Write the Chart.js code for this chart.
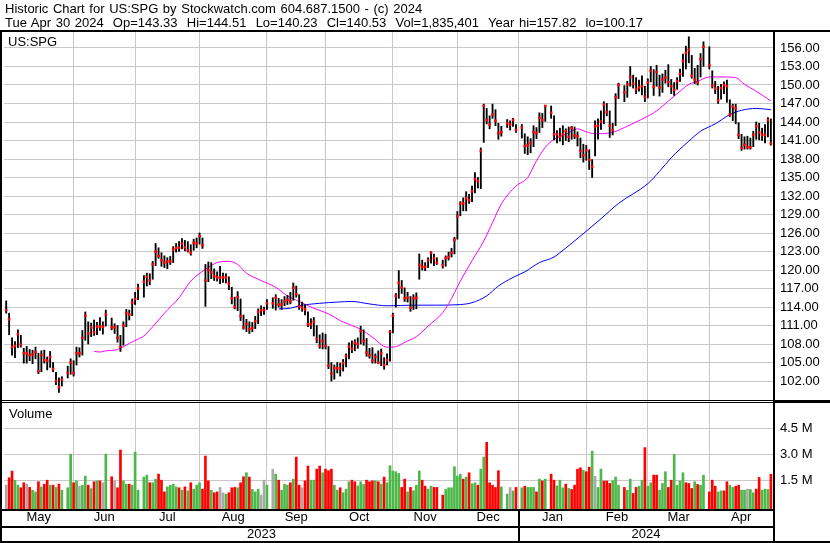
<!DOCTYPE html>
<html>
<head>
<meta charset="utf-8">
<script src="https://cdn.jsdelivr.net/npm/chart.js@4.4.1/dist/chart.umd.min.js"></script>
<style>
  html, body { margin: 0; padding: 0; background: #fff; }
  #wrap { position: relative; width: 830px; height: 543px; overflow: hidden;
          font-family: "Liberation Sans", Arial, Helvetica, sans-serif; color: #000; }
  #wrap canvas { position: absolute; left: 0; top: 0; }
  .txt { position: absolute; font-size: 13px; line-height: 13.4px; white-space: pre; }
  .head { word-spacing: 1px; }
</style>
</head>
<body>
<div id="wrap">
  <canvas id="chart" width="830" height="543"></canvas>
  <div class="txt head" id="head1" style="left:5px;top:2px;"></div>
  <div class="txt head" id="head2" style="left:5px;top:15.5px;"></div>
  <div class="txt" style="left:8px;top:34.5px;">US:SPG</div>
  <div class="txt" style="left:9px;top:406.5px;">Volume</div>
</div>
<script>
// ---- Daily data, May 1 2023 .. Apr 30 2024 (one entry per trading day) ----
// weekday slots (counted from Mon May 1 2023) on which the market was closed
const holidays = [20, 35, 46, 90, 148, 170, 175, 185, 210, 239];

const closes = [
  // May
  113.5,112.0,107.5,107.7,109.6,107.9,106.5,106.5,106.2,106.3,106.7,103.6,106.2,105.4,105.3,105.9,103.9,102.0,101.0,102.2,103.3,105.0,
  // Jun
  103.3,106.5,106.5,109.0,112.6,109.7,110.7,109.9,110.8,110.8,110.8,112.8,110.7,110.7,109.0,107.5,111.0,113.0,112.8,114.7,115.3,
  // Jul
  117.0,118.1,118.9,118.3,120.9,123.0,122.3,121.6,121.2,121.4,121.4,123.3,123.6,123.6,124.3,123.7,123.2,122.8,124.4,124.3,
  // Aug
  125.5,124.0,118.3,120.0,119.6,119.0,118.8,118.8,118.8,118.8,117.8,115.4,114.0,115.6,112.5,110.7,111.3,110.4,110.6,111.7,113.2,113.5,113.5,
  // Sep
  114.6,114.6,115.5,114.4,114.4,114.9,115.2,114.9,117.1,116.1,114.1,113.9,113.6,111.2,111.2,111.6,108.8,107.7,108.5,107.7,
  // Oct
  104.5,103.2,104.1,104.1,104.0,104.9,106.0,107.6,107.2,108.2,108.0,110.1,108.5,106.6,106.2,105.3,105.9,105.0,106.5,104.6,105.4,110.0,
  // Nov
  112.6,115.8,117.9,117.2,115.4,115.5,113.9,115.4,115.5,120.8,120.5,120.5,121.6,122.8,121.9,121.2,120.8,121.9,122.1,122.8,124.9,
  // Dec
  128.7,130.8,130.8,131.6,131.3,132.8,134.7,134.4,139.3,146.6,144.3,143.6,145.2,144.2,142.2,142.4,143.8,143.6,144.3,142.7,
  // Jan
  143.1,140.1,140.2,140.6,142.4,142.2,144.7,144.3,146.6,145.5,142.0,142.0,141.6,142.0,142.5,141.6,143.0,141.8,141.7,139.3,138.6,
  // Feb
  139.4,137.9,136.8,143.3,143.4,144.1,146.8,145.6,143.4,142.7,148.0,150.0,148.8,150.1,151.3,150.2,149.3,149.6,149.8,148.1,
  // Mar
  150.4,152.3,149.7,152.1,149.6,150.9,151.2,150.5,149.8,149.2,150.6,151.8,153.9,155.2,155.7,151.5,150.9,150.4,154.2,156.2,
  // Apr
  153.2,149.9,149.4,147.5,149.5,150.0,149.8,145.2,146.5,146.2,141.9,139.8,140.3,139.9,139.9,141.9,143.3,142.3,141.9,141.9,144.3,140.53
];

const highs = [
  115.0,113.0,109.0,108.4,110.3,109.4,107.3,107.6,107.1,107.0,107.5,106.5,106.9,107.0,105.9,106.8,105.0,103.4,102.5,102.7,104.4,105.6,
  105.3,107.5,107.4,110.2,113.2,111.6,111.4,111.9,111.5,112.3,111.6,113.5,112.2,111.3,111.0,109.4,111.6,113.6,113.5,115.3,116.4,
  117.7,119.1,119.5,119.4,121.4,124.3,123.6,122.8,122.3,122.0,122.2,123.8,124.3,124.6,125.1,124.8,124.6,124.1,125.0,125.2,
  126.0,125.2,120.9,121.3,121.2,120.2,119.7,120.6,119.5,119.4,118.9,117.2,115.6,116.5,115.3,112.7,112.0,111.6,111.5,112.5,113.7,114.2,114.0,
  115.2,115.5,116.0,115.4,115.2,115.7,115.9,116.4,117.9,117.4,116.0,114.8,114.4,113.2,112.1,112.3,111.0,109.5,109.8,109.6,
  107.6,105.0,104.6,105.0,104.9,105.5,106.4,108.2,108.5,108.7,109.0,110.9,110.3,108.9,107.3,107.4,106.4,106.9,107.2,105.8,106.4,110.2,
  113.0,116.2,119.9,118.3,117.1,116.4,115.7,116.0,116.3,122.6,121.6,121.2,122.0,123.0,122.6,122.0,121.6,122.3,122.9,123.5,125.3,
  129.5,131.1,131.7,132.7,132.3,133.6,135.8,135.0,139.8,146.9,146.2,145.0,146.9,146.0,143.8,143.3,144.4,144.2,144.6,143.6,
  143.6,142.1,141.6,141.3,143.4,143.1,145.5,145.4,146.7,146.6,145.0,142.6,143.0,143.4,142.9,143.2,143.3,143.2,142.4,141.4,140.4,
  140.2,139.5,137.9,144.2,144.5,145.8,147.3,147.0,145.8,143.8,148.6,150.3,149.9,150.6,153.0,151.6,151.2,150.8,151.5,149.8,
  151.0,153.0,152.5,153.2,151.6,151.8,152.4,153.3,150.9,150.4,151.2,152.6,155.0,156.3,157.82,154.8,152.7,153.2,155.1,157.0,
  156.2,152.3,150.6,149.8,150.1,150.5,150.8,147.6,146.9,146.9,143.9,142.0,141.6,141.7,141.4,142.5,144.0,143.8,143.0,143.6,144.7,144.51
];

const lows = [
  113.0,109.5,106.2,105.8,107.4,107.5,104.9,104.9,105.3,104.8,105.6,103.2,103.5,104.9,103.8,104.2,103.5,101.4,100.17,101.2,102.5,103.1,
  102.8,104.6,105.9,106.2,108.6,108.0,109.2,109.4,109.5,110.2,109.6,110.9,110.3,109.7,108.3,106.8,107.8,110.8,111.9,112.6,114.4,
  115.2,115.6,117.4,117.6,118.5,120.7,121.9,120.6,120.4,120.2,120.9,121.2,122.9,123.0,123.4,123.1,122.9,122.4,123.2,123.6,
  124.2,123.5,114.1,118.1,118.6,118.3,118.2,117.8,118.0,117.9,116.8,114.5,113.7,113.4,111.8,110.4,110.0,109.7,110.0,110.5,111.3,112.6,112.8,
  113.6,113.8,113.5,114.0,113.6,114.2,114.4,114.5,115.1,115.6,113.6,113.3,112.7,110.8,110.5,109.3,108.2,107.3,107.2,107.2,
  104.0,102.0,102.3,103.3,102.8,103.6,104.3,105.6,106.6,106.9,107.3,108.0,107.8,106.0,105.7,104.9,104.9,104.8,104.5,103.9,104.6,105.2,
  109.8,114.0,115.4,116.2,114.9,114.8,113.3,113.6,113.7,118.5,120.0,119.9,120.4,121.1,120.7,120.9,120.3,120.6,121.6,122.1,122.6,
  125.0,128.8,129.6,129.6,130.8,131.1,132.5,133.3,133.2,140.7,143.7,142.9,144.6,143.4,141.2,141.7,143.1,142.7,143.3,142.3,
  141.4,138.9,138.7,139.0,140.0,141.3,142.3,143.1,144.1,144.6,141.1,140.6,140.9,140.3,141.0,140.8,141.2,141.3,140.1,138.2,137.5,
  137.8,136.3,135.0,138.5,141.2,142.8,143.7,145.0,141.5,141.9,143.4,147.8,147.3,148.0,149.8,149.5,148.6,149.0,148.4,147.3,
  147.9,150.5,148.3,149.8,148.2,148.8,150.3,149.7,148.6,148.3,149.3,150.6,151.4,152.6,153.6,151.1,150.2,150.0,151.3,153.0,
  152.6,149.5,148.6,147.0,147.7,148.6,147.2,144.9,144.2,143.7,141.3,139.4,139.6,139.6,139.6,140.0,141.2,141.1,141.0,140.6,141.6,140.23
];

const lastOpen = 143.33;

// volume in millions of shares
const volumes = [
  1.2,1.63,2.02,1.49,1.2,1.05,1.34,1.26,1.07,0.91,0.81,1.4,1.1,1.26,1.49,1.2,1.2,1.07,1.26,0.91,1.05,3.0,
  1.34,1.45,1.14,1.2,1.73,1.2,1.0,1.4,1.45,1.45,1.34,3.0,1.69,1.45,1.05,3.24,1.45,1.26,1.26,1.2,3.12,
  0.91,1.67,1.78,1.34,1.34,1.55,1.84,1.49,0.81,1.1,1.2,1.26,1.1,1.05,0.91,1.1,0.87,1.34,0.97,1.2,
  1.34,0.97,2.89,1.45,0.91,0.76,0.81,1.07,0.76,0.68,0.76,1.05,1.07,1.05,1.34,1.69,1.92,1.67,0.95,0.81,0.97,0.62,1.49,
  1.2,2.13,1.84,1.49,0.91,1.26,1.2,1.34,1.55,2.83,1.2,1.05,1.45,2.31,1.49,1.49,2.13,2.31,1.92,2.13,
  2.04,2.13,1.2,0.91,1.05,0.76,0.97,1.4,1.49,1.4,1.16,1.4,1.24,1.49,1.4,1.45,1.45,1.4,1.26,1.67,1.34,2.33,
  2.02,1.98,1.88,1.07,1.55,0.81,1.07,0.88,1.2,2.02,1.49,1.14,0.97,1.14,1.07,1.07,0.62,0.95,1.05,1.05,2.27,
  1.73,1.84,1.55,1.67,1.92,1.28,1.34,1.2,2.13,2.83,3.69,1.34,1.2,1.07,2.04,1.1,0.68,1.07,0.87,1.07,
  1.05,1.14,1.07,1.07,1.07,0.81,1.55,1.45,1.55,1.84,1.49,1.16,1.49,1.05,1.26,1.01,0.95,1.2,2.13,2.21,2.06,
  1.98,2.25,3.18,1.71,1.07,2.13,1.44,1.44,1.3,1.45,1.67,1.2,1.07,0.91,1.55,0.72,1.07,1.14,1.49,3.38,
  1.14,1.34,1.78,1.78,0.91,1.3,1.98,1.07,1.49,2.99,1.2,1.45,1.92,1.34,1.3,1.01,1.4,1.24,1.2,1.78,
  0.81,1.49,1.14,0.81,0.87,0.87,1.4,1.2,1.07,1.14,1.2,0.91,0.91,0.97,0.95,0.76,0.97,1.65,0.91,0.97,0.95,1.835401
];

// volume bar tone per day: g = up, r = down, n = unchanged
const volumeTone = (
  'nrrggrrnrggrgrrgrgrggg' + 'rgnggrgrgrngrnrrggrgg' + 'gggrggrrrggggrgrgrgg' +
  'grrrgrrnngrrrgrrgrgggnn' + 'gngrgggrgrrnrrggrrgr' + 'rrggrgggrrgggrrrgrgrgg' +
  'gggrrgrgggrrggrrrgggg' + 'ggrgrggrggrrrrrggngr' + 'grgggrgrgrrgggrgrrrrg' +
  'rrgnggrrrgggrggrrggr' + 'ggrrgggrrggggrrrgrgg' + 'rrrggrrggrrggnggrrgggr'
).split('');

// moving averages (weekday slot, price)
const maFastDay = [30,32,34,37,39,42,45,47,50,54,59,63,68,72,76,79,82,87,92,96,100,105,110,114,118,121,125,130,132,137,
                   140,144,149,151,155,159,163,166,169,174,178,181,184,187,191,195,198,201,206,211,215,218,222,226,230,233,236,240,245,249,252,256,261];
const maFastVal = [106.8,106.7,106.9,107.0,107.3,108.1,108.8,109.3,110.8,113.0,115.5,118.2,120.1,121.2,121.4,120.9,119.5,118.3,117.2,115.8,
                   114.9,113.8,112.9,111.8,111.0,110.4,109.1,107.5,107.5,108.5,109.2,110.9,113.1,114.5,118.2,121.5,124.7,127.7,130.7,133.6,
                   135.0,137.7,139.9,141.2,142.0,142.9,142.4,142.1,142.2,143.1,144.0,144.7,145.8,147.4,149.0,150.1,150.6,151.3,151.3,151.2,
                   150.1,149.0,147.4];
const maSlowDay = [93,97,100,107,113,118,124,130,139,147,155,159,164,168,173,177,182,187,189,196,203,209,219,223,227,233,237,242,247,251,256,261];
const maSlowVal = [113.7,113.8,114.2,114.6,114.8,114.9,114.5,114.2,114.3,114.3,114.4,114.7,115.8,117.4,118.8,119.7,121.2,122.1,122.8,125.5,
                   128.3,130.8,134.0,136.0,138.2,140.9,142.5,143.7,145.2,145.9,146.2,146.0];

// calendar labels
const monthNames = ['May','Jun','Jul','Aug','Sep','Oct','Nov','Dec','Jan','Feb','Mar','Apr'];
const monthStarts = [23, 44, 66, 89, 109, 132, 154, 175, 198, 219, 240];
const yearNames = ['2023', '2024'];
const yearStart = 175;

const priceTicks = [102,105,108,111,114,117,120,123,126,129,132,135,138,141,144,147,150,153,156];
const volumeTicks = [1.5, 3.0, 4.5];

// ---- layout / style ----
const X_MIN = -0.75, X_MAX = 261.73;
const PRICE_MIN = 98.76, PRICE_MAX = 158.594;
const VOL_MIN = -0.241, VOL_MAX = 6.085;
const GRID = '#c8c8c8';
const FONT = '"Liberation Sans", Arial, Helvetica, sans-serif';
const TONE = { g: '#4cb848', r: '#ff0000', n: '#a8a8a8' };

// header text
document.getElementById('head1').textContent =
  'Historic Chart for US:SPG by Stockwatch.com 604.687.1500 - (c) 2024';
const last = closes.length - 1;
const fmtVol = Math.round(volumes[last] * 1e6).toLocaleString('en-US');
document.getElementById('head2').textContent =
  'Tue Apr 30 2024  Op=' + lastOpen.toFixed(2) +
  '  Hi=' + highs[last].toFixed(2) +
  '  Lo=' + lows[last].toFixed(2) +
  '  Cl=' + closes[last].toFixed(2) +
  '  Vol=' + fmtVol +
  '  Year hi=' + Math.max(...highs).toFixed(2) +
  '  lo=' + Math.min(...lows).toFixed(2);

// map trading days onto weekday slots
const dayIndex = [];
for (let d = 0; dayIndex.length < closes.length; d++) {
  if (!holidays.includes(d)) dayIndex.push(d);
}

const monthBounds = [X_MIN, ...monthStarts, X_MAX];
const monthMids = monthNames.map((_, i) => (monthBounds[i] + monthBounds[i + 1]) / 2);
const yearMids = [(X_MIN + yearStart) / 2, (yearStart + X_MAX) / 2];

const setTicks = vals => s => { s.ticks = vals.map(v => ({ value: v })); };
const fixW = w => s => { s.width = w; };
const fixH = h => s => { s.height = h; };
const labelFont = { family: FONT, size: 13 };

const frame = {
  id: 'frame',
  afterDraw(chart) {
    const { ctx, chartArea: a, scales } = chart;
    const W = chart.width, H = chart.height;
    const split = Math.round(scales.y.bottom);
    const rowSplit = Math.round(scales.xm.bottom);
    const xYear = Math.round(scales.x.getPixelForValue(yearStart));
    ctx.save();
    ctx.fillStyle = '#000';
    ctx.fillRect(0, a.top - 2, W, 2);                 // below header
    ctx.fillRect(0, a.top, 2, H - a.top);             // left edge
    ctx.fillRect(a.right, a.top, 2, H - a.top);       // price-axis edge
    ctx.fillRect(0, split - 1, W, 1);                 // panel separator
    ctx.fillRect(0, split + 1, W, 1);
    ctx.fillRect(a.right, split - 1, W - a.right, 3);
    ctx.fillRect(0, a.bottom - 1, a.right, 2);        // volume panel bottom
    ctx.fillRect(0, rowSplit - 1, a.right, 2);        // month / year rows
    ctx.fillRect(xYear - 1, a.bottom, 2, H - a.bottom);
    ctx.fillRect(0, H - 2, W, 2);                     // bottom edge
    ctx.restore();
  }
};

new Chart(document.getElementById('chart'), {
  type: 'bar',
  data: {
    datasets: [
      {
        type: 'line', label: 'Close',
        data: dayIndex.map((d, i) => ({ x: d, y: closes[i] })),
        showLine: false, pointStyle: 'rect', pointRadius: 1.8, pointBorderWidth: 0,
        pointBackgroundColor: '#ff0000', pointBorderColor: '#ff0000',
        yAxisID: 'y', order: 0
      },
      {
        type: 'bar', label: 'Range',
        data: dayIndex.map((d, i) => ({ x: d, y: [lows[i], highs[i]] })),
        backgroundColor: '#000', barThickness: 1.2, grouped: false,
        yAxisID: 'y', order: 1
      },
      {
        type: 'line', label: 'Fast average',
        data: maFastDay.map((d, i) => ({ x: d, y: maFastVal[i] })),
        borderColor: '#ff00ff', borderWidth: 1, pointRadius: 0,
        cubicInterpolationMode: 'monotone', yAxisID: 'y', order: 2
      },
      {
        type: 'line', label: 'Slow average',
        data: maSlowDay.map((d, i) => ({ x: d, y: maSlowVal[i] })),
        borderColor: '#0000ff', borderWidth: 1, pointRadius: 0,
        cubicInterpolationMode: 'monotone', yAxisID: 'y', order: 3
      },
      {
        type: 'bar', label: 'Volume',
        data: dayIndex.map((d, i) => ({ x: d, y: volumes[i] })),
        backgroundColor: volumeTone.map(t => TONE[t]),
        barThickness: 2, grouped: false, base: VOL_MIN,
        yAxisID: 'v', order: 4
      }
    ]
  },
  options: {
    responsive: false,
    animation: false,
    devicePixelRatio: 1,
    events: [],
    layout: { padding: { top: 32, left: 0, right: 0, bottom: 0 } },
    plugins: { legend: { display: false }, tooltip: { enabled: false } },
    scales: {
      x: {
        type: 'linear', position: 'bottom', weight: 0, min: X_MIN, max: X_MAX, offset: false,
        grid: { color: GRID, lineWidth: 1, drawTicks: false, offset: false },
        border: { display: false },
        ticks: { display: false },
        afterBuildTicks: setTicks(monthStarts),
        afterFit: fixH(0)
      },
      xm: {
        type: 'linear', position: 'bottom', weight: 1, min: X_MIN, max: X_MAX, offset: false,
        grid: { display: false, drawTicks: false, offset: false },
        border: { display: false },
        ticks: { autoSkip: false, maxRotation: 0, minRotation: 0, padding: 0, color: '#000',
                 font: labelFont, callback: (v, i) => monthNames[i] },
        afterBuildTicks: setTicks(monthMids),
        afterFit: fixH(17)
      },
      xy: {
        type: 'linear', position: 'bottom', weight: 2, min: X_MIN, max: X_MAX, offset: false,
        grid: { display: false, drawTicks: false, offset: false },
        border: { display: false },
        ticks: { autoSkip: false, maxRotation: 0, minRotation: 0, padding: 0, color: '#000',
                 font: labelFont, callback: (v, i) => yearNames[i] },
        afterBuildTicks: setTicks(yearMids),
        afterFit: fixH(16)
      },
      y: {
        type: 'linear', position: 'right', stack: 'panels', stackWeight: 369, weight: 0,
        min: PRICE_MIN, max: PRICE_MAX,
        grid: { color: GRID, lineWidth: 1, drawTicks: false },
        border: { display: false },
        ticks: { autoSkip: false, padding: 7, color: '#000', font: labelFont,
                 callback: v => v.toFixed(2) },
        afterBuildTicks: setTicks(priceTicks),
        afterFit: fixW(57)
      },
      v: {
        type: 'linear', position: 'right', stack: 'panels', stackWeight: 109, weight: 1,
        min: VOL_MIN, max: VOL_MAX,
        grid: { color: GRID, lineWidth: 1, drawTicks: false },
        border: { display: false },
        ticks: { autoSkip: false, padding: 7, color: '#000', font: labelFont,
                 callback: v => v.toFixed(1) + ' M' },
        afterBuildTicks: setTicks(volumeTicks),
        afterFit: fixW(57)
      }
    }
  },
  plugins: [frame]
});
</script>
</body>
</html>
